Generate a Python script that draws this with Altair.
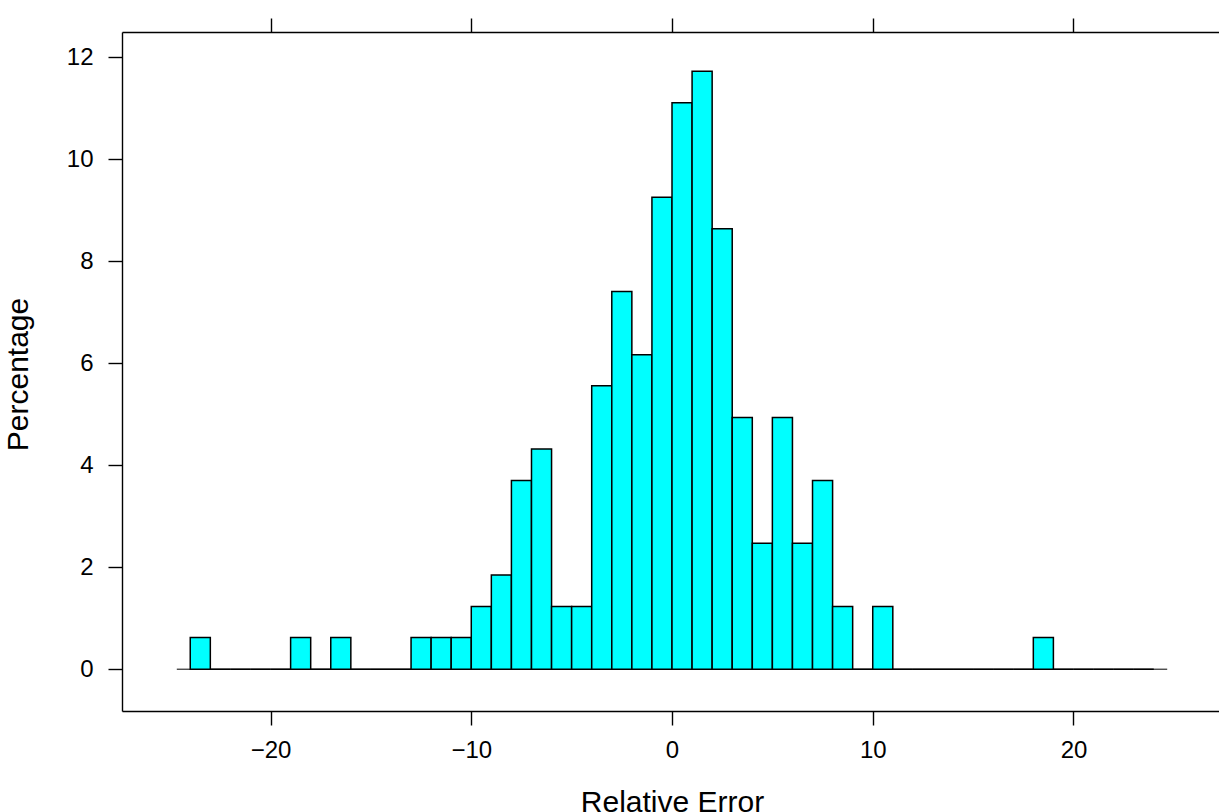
import altair as alt
import pandas as pd

# bin left edges (bin width 1) and percentage in each bin
bin_lo = list(range(-24, 24))
pct = [
    0.62, 0, 0, 0, 0, 0.62, 0, 0.62, 0, 0, 0, 0.62,     # -24 .. -13
    0.62, 0.62, 1.23, 1.85, 3.70, 4.32, 1.23, 1.23,      # -12 .. -5
    5.56, 7.41, 6.17, 9.26,                              # -4 .. -1
    11.11, 11.73, 8.64, 4.94, 2.47, 4.94, 2.47, 3.70,    # 0 .. 7
    1.23, 0, 1.23, 0, 0, 0, 0, 0, 0, 0,                  # 8 .. 17
    0.62, 0, 0, 0, 0, 0,                                 # 18 .. 23
]
x_ticks = [-20, -10, 0, 10, 20]
y_ticks = [0, 2, 4, 6, 8, 10, 12]
baseline_range = [-24.67, 24.67]

bars_df = pd.DataFrame({"lo": bin_lo, "hi": [b + 1 for b in bin_lo], "pct": pct})
base_df = pd.DataFrame({"lo": [baseline_range[0]], "hi": [baseline_range[1]], "pct": [0]})

FONT = "Liberation Sans"
xscale = alt.Scale(domain=[-27.4, 27.25], nice=False, zero=False)
yscale = alt.Scale(domain=[-0.82, 12.5], nice=False, zero=False)

y_enc = alt.Y(
    "pct:Q",
    scale=yscale,
    axis=alt.Axis(
        orient="left",
        values=y_ticks,
        tickSize=14,
        labelPadding=15,
        labelFontSize=24,
        title="Percentage",
        titleFontSize=30,
        titleAngle=270,
        titleX=-95,
        titleY=342,
        titleAlign="center",
        titleBaseline="alphabetic",
    ),
)

rule = alt.Chart(base_df).mark_rule(color="black", strokeWidth=1).encode(
    x=alt.X(
        "lo:Q",
        scale=xscale,
        axis=alt.Axis(orient="top", values=x_ticks, labels=False, title="", tickSize=14),
    ),
    x2="hi:Q",
    y=y_enc,
)

bars = alt.Chart(bars_df).mark_rect(fill="#00FFFF", stroke="black", strokeWidth=1.5).encode(
    x=alt.X(
        "lo:Q",
        scale=xscale,
        axis=alt.Axis(
            orient="bottom",
            values=x_ticks,
            tickSize=14,
            labelPadding=13,
            labelFontSize=24,
            title="Relative Error",
            titleFontSize=30,
            titleX=550,
            titleY=100,
            titleAlign="center",
            titleBaseline="alphabetic",
        ),
    ),
    x2="hi:Q",
    y=y_enc,
    y2=alt.datum(0),
)

chart = (
    alt.layer(rule, bars)
    .resolve_axis(x="independent")
    .properties(
        width=1097,
        height=679,
        autosize=alt.AutoSizeParams(type="none"),
        padding={"left": 122, "top": 32, "right": 0, "bottom": 101},
    )
    .configure_view(strokeOpacity=0)
    .configure_axis(
        grid=False,
        domainColor="black",
        tickColor="black",
        domainWidth=1.4,
        tickWidth=1.4,
        labelColor="black",
        titleColor="black",
        labelFont=FONT,
        titleFont=FONT,
        titleFontWeight="normal",
    )
)

chart.save("out.html", embed_options={"renderer": "svg", "actions": False})
